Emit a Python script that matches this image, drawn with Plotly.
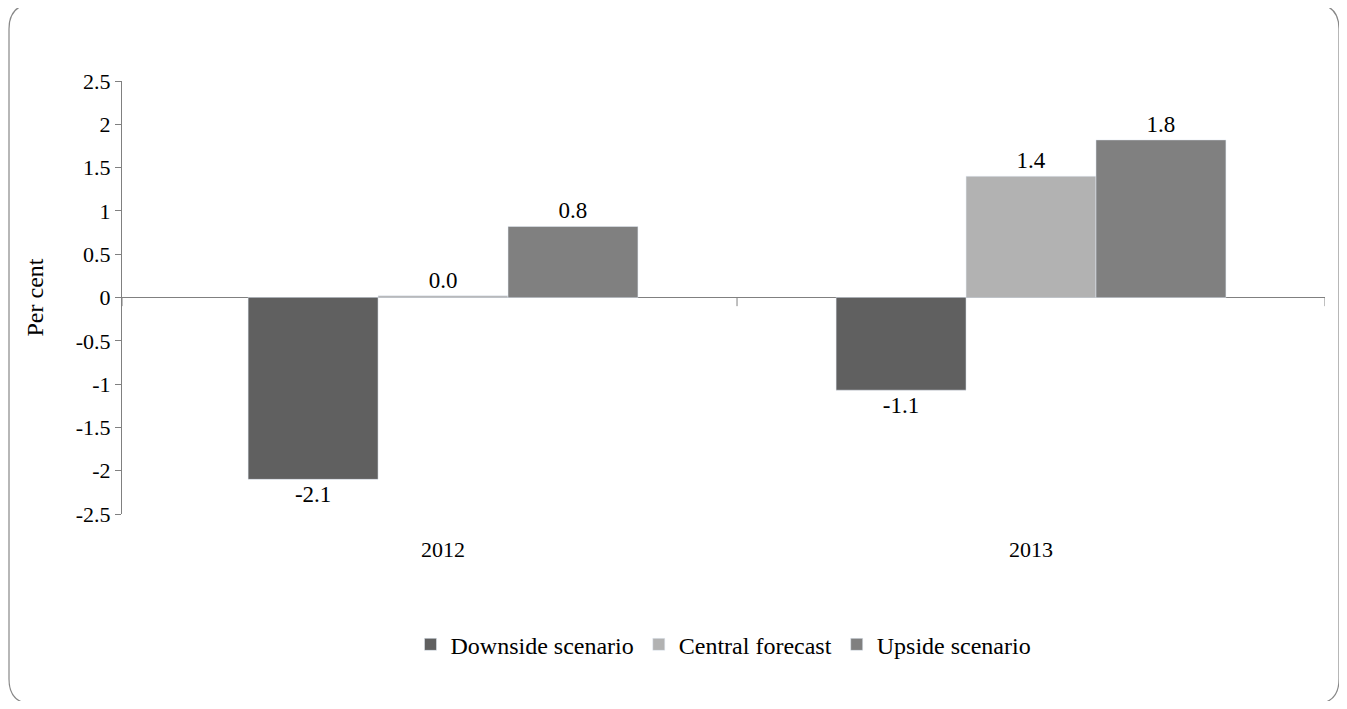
import plotly.graph_objects as go

categories = ["2012", "2013"]
series_names = ["Downside scenario", "Central forecast", "Upside scenario"]
downside = [-2.1, -1.07]
central = [0.02, 1.4]
upside = [0.82, 1.82]
labels = [["-2.1", "-1.1"], ["0.0", "1.4"], ["0.8", "1.8"]]
colors = ["#606060", "#b2b2b2", "#808080"]
yticks = [2.5, 2, 1.5, 1, 0.5, 0, -0.5, -1, -1.5, -2, -2.5]

font = "Liberation Serif"
fig = go.Figure()
for name, vals, lab, col in zip(series_names, [downside, central, upside], labels, colors):
    fig.add_trace(go.Bar(x=categories, y=vals, name=name, marker_color=col,
                         text=lab, textposition="outside", cliponaxis=False,
                         textfont=dict(size=23, color="black", family=font)))

OFF = 8
W, H = 1347 - 2 * OFF, 709 - 2 * OFF
L, R, T, B = 122 - OFF, 1339 - 1325, 81 - OFF, 701 - 514
pw, ph = W - L - R, H - T - B
def px(x): return (x - OFF - L) / pw
def py(y): return (H - B - (y - OFF)) / ph
x0, x1, y0, y1 = px(9), px(1339), py(704), py(4)
rx, ry = 25 / pw, 25 / ph
path = (f"M {x0+rx},{y1} L {x1-rx},{y1} Q {x1},{y1} {x1},{y1-ry} L {x1},{y0+ry} "
        f"Q {x1},{y0} {x1-rx},{y0} L {x0+rx},{y0} Q {x0},{y0} {x0},{y0+ry} "
        f"L {x0},{y1-ry} Q {x0},{y1} {x0+rx},{y1} Z")
XR = [-0.546, 1.5]
shapes = [dict(type="path", xref="paper", yref="paper", path=path,
               line=dict(color="#888888", width=1.2), layer="below")]
for b in [XR[0], 0.5, 1.5]:
    shapes.append(dict(type="line", xref="x", yref="y", x0=b, x1=b, y0=0, y1=-0.1,
                       line=dict(color="#808080", width=1)))

fig.update_layout(
    width=W, height=H, margin=dict(l=L, r=R, t=T, b=B, autoexpand=False),
    paper_bgcolor="white", plot_bgcolor="white",
    barmode="group", bargap=0.337, bargroupgap=0,
    font=dict(family=font, size=22, color="black"),
    shapes=shapes,
    legend=dict(orientation="h", x=0.5, xanchor="center", y=-0.25, yanchor="top",
                font=dict(size=24), tracegroupgap=0),
    showlegend=True,
)
fig.update_xaxes(showline=False, ticks="", showgrid=False, range=XR,
                 tickfont=dict(size=22), automargin=False, ticklabelstandoff=20)
fig.update_yaxes(range=[-2.5, 2.5], tickvals=yticks,
                 ticktext=[f"{v:g}" for v in yticks], showgrid=False,
                 showline=True, linecolor="#808080", ticks="outside", ticklen=6,
                 tickcolor="#808080", zeroline=True, zerolinecolor="#808080",
                 zerolinewidth=1, tickfont=dict(size=22), automargin=False,
                 title=dict(text="Per cent", font=dict(size=24), standoff=25))
fig.write_html("out.html")
